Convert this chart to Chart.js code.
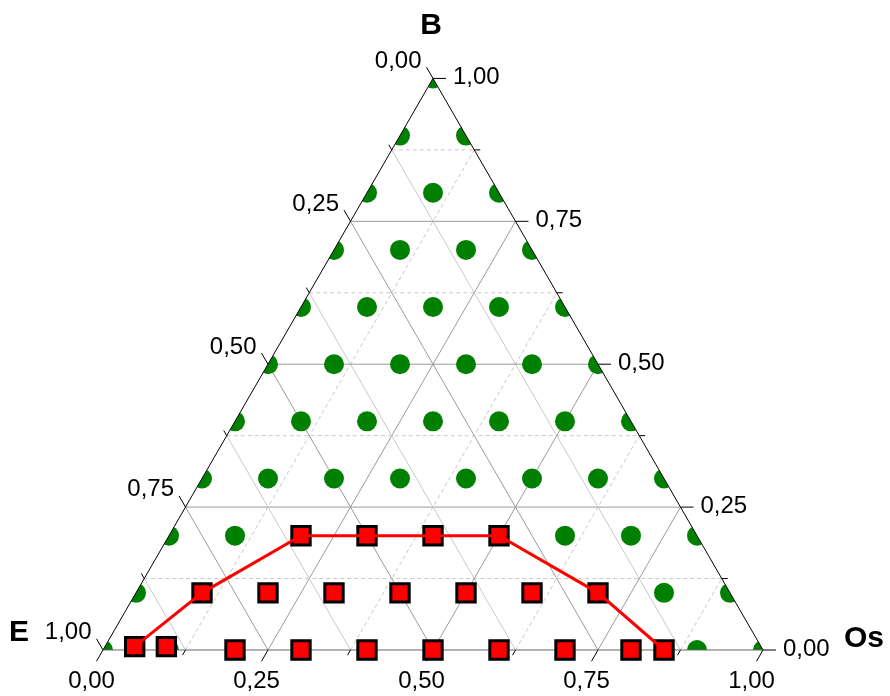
<!DOCTYPE html>
<html>
<head>
<meta charset="utf-8">
<script src="https://cdn.jsdelivr.net/npm/chart.js@4/dist/chart.umd.min.js"></script>
<style>
  html, body { margin: 0; padding: 0; background: #ffffff; }
  #wrap { width: 890px; height: 696px; }
</style>
</head>
<body>
<div id="wrap"><canvas id="c" width="890" height="696"></canvas></div>
<script>
// ---- Data (ternary compositions given as [B, Os]; E = 1 - B - Os) ----
const greenPoints = [
  [0.0,0.0],[0.0,0.1],[0.0,0.2],[0.0,0.3],[0.0,0.4],[0.0,0.5],[0.0,0.6],[0.0,0.7],[0.0,0.8],[0.0,0.9],[0.0,1.0],
  [0.1,0.0],[0.1,0.1],[0.1,0.2],[0.1,0.3],[0.1,0.4],[0.1,0.5],[0.1,0.6],[0.1,0.7],[0.1,0.8],[0.1,0.9],
  [0.2,0.0],[0.2,0.1],[0.2,0.2],[0.2,0.3],[0.2,0.4],[0.2,0.5],[0.2,0.6],[0.2,0.7],[0.2,0.8],
  [0.3,0.0],[0.3,0.1],[0.3,0.2],[0.3,0.3],[0.3,0.4],[0.3,0.5],[0.3,0.6],[0.3,0.7],
  [0.4,0.0],[0.4,0.1],[0.4,0.2],[0.4,0.3],[0.4,0.4],[0.4,0.5],[0.4,0.6],
  [0.5,0.0],[0.5,0.1],[0.5,0.2],[0.5,0.3],[0.5,0.4],[0.5,0.5],
  [0.6,0.0],[0.6,0.1],[0.6,0.2],[0.6,0.3],[0.6,0.4],
  [0.7,0.0],[0.7,0.1],[0.7,0.2],[0.7,0.3],
  [0.8,0.0],[0.8,0.1],[0.8,0.2],
  [0.9,0.0],[0.9,0.1],
  [1.0,0.0]
];
const redPoints = [
  [0.006,0.045],[0.006,0.093],[0.0,0.20],[0.0,0.30],[0.0,0.40],[0.0,0.50],[0.0,0.60],[0.0,0.70],[0.0,0.80],[0.0,0.85],
  [0.1,0.10],[0.1,0.20],[0.1,0.30],[0.1,0.40],[0.1,0.50],[0.1,0.60],[0.1,0.70],
  [0.2,0.20],[0.2,0.30],[0.2,0.40],[0.2,0.50]
];
const lineB  = [0.006, 0.1, 0.2, 0.2, 0.2, 0.2, 0.1, 0.0];
const lineOs = [0.045, 0.1, 0.2, 0.3, 0.4, 0.5, 0.7, 0.85];
const tickPositions = [0, 0.125, 0.25, 0.375, 0.5, 0.625, 0.75, 0.875, 1];
const labelValues = [0, 0.25, 0.5, 0.75, 1];
const labelTexts = ['0,00', '0,25', '0,50', '0,75', '1,00'];
const axisTitles = { top: 'B', left: 'E', right: 'Os' };

// ---- ternary -> cartesian ----
const H = Math.sqrt(3) / 2;
function tern(b, os) { return { x: os + b / 2, y: b * H }; }

const greenData = greenPoints.map(p => tern(p[0], p[1]));
const redData = redPoints.map(p => tern(p[0], p[1]));
const lineData = lineB.map((b, i) => tern(b, lineOs[i]));

function px(chart, p) {
  return { x: chart.scales.x.getPixelForValue(p.x), y: chart.scales.y.getPixelForValue(p.y) };
}
function seg(ctx, a, b) { ctx.beginPath(); ctx.moveTo(a.x, a.y); ctx.lineTo(b.x, b.y); ctx.stroke(); }

const ternaryPlugin = {
  id: 'ternary',
  beforeDatasetsDraw(chart) {
    const ctx = chart.ctx;
    ctx.save();
    ctx.lineWidth = 1;
    tickPositions.forEach(v => {
      if (v === 0 || v === 1) return;
      const major = Math.abs(v * 4 - Math.round(v * 4)) < 1e-9;
      ctx.strokeStyle = major ? '#9a9a9a' : '#c8c8c8';
      ctx.setLineDash(major ? [] : [4, 3]);
      // constant B (horizontal)
      seg(ctx, px(chart, tern(v, 0)), px(chart, tern(v, 1 - v)));
      // constant Os
      seg(ctx, px(chart, tern(0, v)), px(chart, tern(1 - v, v)));
      // constant E (solid)
      ctx.setLineDash([]);
      seg(ctx, px(chart, tern(1 - v, 0)), px(chart, tern(0, 1 - v)));
    });
    ctx.restore();
  },
  beforeDatasetDraw(chart, args) {
    const ds = chart.data.datasets[args.index];
    if (ds.label !== 'grid') return;
    const ctx = chart.ctx;
    const a = px(chart, tern(0, 0)), b = px(chart, tern(1, 0)), c = px(chart, tern(0, 1));
    ctx.save();
    ctx.beginPath();
    ctx.moveTo(a.x, a.y); ctx.lineTo(b.x, b.y); ctx.lineTo(c.x, c.y); ctx.closePath();
    ctx.clip();
  },
  afterDatasetDraw(chart, args) {
    const ds = chart.data.datasets[args.index];
    if (ds.label !== 'grid') return;
    const ctx = chart.ctx;
    ctx.restore();
    ctx.save();
    const E = px(chart, tern(0, 0)), B = px(chart, tern(1, 0)), O = px(chart, tern(0, 1));
    ctx.lineWidth = 1;
    ctx.setLineDash([]);
    ctx.strokeStyle = '#000000';
    seg(ctx, E, B);
    seg(ctx, B, O);
    ctx.strokeStyle = '#666666';
    seg(ctx, E, O);
    // ticks
    ctx.strokeStyle = '#000000';
    tickPositions.forEach(v => {
      const major = Math.abs(v * 4 - Math.round(v * 4)) < 1e-9;
      const L = major ? 13 : 6;
      const pb = px(chart, tern(0, v));
      seg(ctx, pb, { x: pb.x - L * 0.5, y: pb.y + L * H });
      const pl = px(chart, tern(1 - v, 0));
      seg(ctx, pl, { x: pl.x - L * 0.5, y: pl.y - L * H });
      const pr = px(chart, tern(v, 1 - v));
      seg(ctx, pr, { x: pr.x + L, y: pr.y });
    });
    ctx.restore();
  },
  afterDraw(chart) {
    const ctx = chart.ctx;
    ctx.save();
    ctx.fillStyle = '#000000';
    ctx.font = '24px "Liberation Sans", Arial, sans-serif';
    const L = 13;
    labelValues.forEach((v, i) => {
      const t = labelTexts[i];
      // bottom axis (Os)
      const pb = px(chart, tern(0, v));
      ctx.textAlign = 'center'; ctx.textBaseline = 'middle';
      ctx.fillText(t, pb.x - L * 0.5 - 5, pb.y + L * H + 20);
      // left axis (E)
      const pl = px(chart, tern(1 - v, 0));
      ctx.textAlign = 'right'; ctx.textBaseline = 'middle';
      ctx.fillText(t, pl.x - L * 0.5 - 5, pl.y - L * H - 6);
      // right axis (B)
      const pr = px(chart, tern(v, 1 - v));
      ctx.textAlign = 'left'; ctx.textBaseline = 'middle';
      ctx.fillText(t, pr.x + L + 7, pr.y - 1);
    });
    ctx.font = 'bold 30px "Liberation Sans", Arial, sans-serif';
    ctx.textAlign = 'center'; ctx.textBaseline = 'middle';
    const B = px(chart, tern(1, 0)), E = px(chart, tern(0, 0)), O = px(chart, tern(0, 1));
    ctx.fillText(axisTitles.top, B.x - 2, B.y - 53);
    ctx.fillText(axisTitles.left, E.x - 84, E.y - 17);
    ctx.fillText(axisTitles.right, O.x + 101, O.y - 11);
    ctx.restore();
  }
};

new Chart(document.getElementById('c'), {
  type: 'scatter',
  data: {
    datasets: [
      {
        label: 'grid',
        data: greenData,
        pointStyle: 'circle',
        pointRadius: 10,
        pointBackgroundColor: '#008000',
        pointBorderWidth: 0,
        pointBorderColor: '#008000',
        order: 3
      },
      {
        label: 'squares',
        data: redData,
        pointStyle: 'rect',
        pointRadius: 13,
        pointBackgroundColor: '#ff0000',
        pointBorderColor: '#000000',
        pointBorderWidth: 3,
        order: 2
      },
      {
        label: 'boundary',
        type: 'line',
        data: lineData,
        borderColor: '#ff0000',
        borderWidth: 3,
        pointRadius: 0,
        fill: false,
        tension: 0,
        order: 1
      }
    ]
  },
  options: {
    responsive: false,
    animation: false,
    events: [],
    layout: { padding: 0, autoPadding: false },
    plugins: { legend: { display: false }, tooltip: { enabled: false } },
    scales: {
      x: { type: 'linear', min: -0.15606, max: 1.19242, display: false },
      y: { type: 'linear', min: -0.069697, max: 0.984848, display: false }
    }
  },
  plugins: [ternaryPlugin]
});
</script>
</body>
</html>
